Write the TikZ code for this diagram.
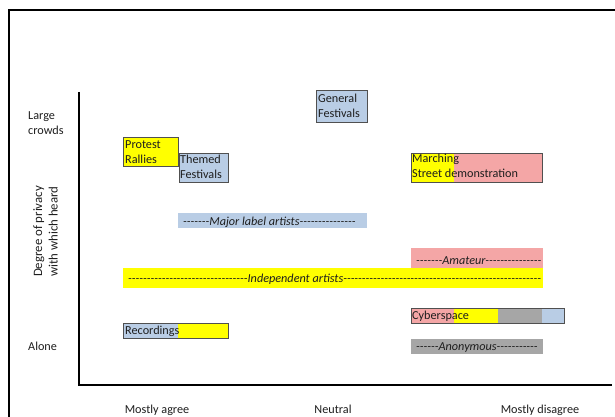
\documentclass[tikz,border=0pt]{standalone}
\usepackage{fontspec}
\setmainfont{Carlito}
\ExplSyntaxOn
\cs_new:Npn \dsh #1 { \prg_replicate:nn {#1} {{-}} }
\ExplSyntaxOff
\definecolor{bblue}{HTML}{B9CDE5}
\definecolor{bpink}{HTML}{F4A6A6}
\definecolor{bgray}{HTML}{A6A6A6}
\definecolor{byel}{HTML}{FFFF00}
\definecolor{bord}{HTML}{505050}
\definecolor{ink}{HTML}{1E1E1E}
\begin{document}
\begin{tikzpicture}[x=1pt,y=-1pt,
  seg/.style={anchor=north west, inner sep=0pt, outer sep=0pt, draw=none},
  frm/.style={anchor=north west, inner sep=0pt, outer sep=0pt, draw=bord, line width=1pt},
  txt/.style={anchor=base west, inner sep=0pt, align=left, text=ink,
    font=\fontsize{12.2}{14.8}\selectfont},
  ctxt/.style={anchor=base, inner sep=0pt, align=center, text=ink,
    font=\fontsize{12.2}{14.8}\selectfont},
  itxt/.style={anchor=base west, inner sep=0pt, text=ink,
    font=\fontsize{12.2}{14.8}\selectfont\itshape}
]
\useasboundingbox (0,0) rectangle (615,417);
% outer frame
\coordinate (fbl) at (9,417);
\coordinate (ftl) at (9,10);
\coordinate (ftr) at (615,10);
\draw[line width=2pt] (fbl) -- (ftl) -- (ftr);
% axes
\coordinate (ytop) at (79,92);
\coordinate (orig) at (79,385);
\coordinate (xend) at (612,385);
\draw[line width=1.6pt] (ytop) -- (orig) -- (xend);

% axis labels (multi-line nodes: base = baseline of last line)
\node[txt] (lc) at (28,134.5) {Large\\crowds};
\node[txt] (al) at (28,350.5) {Alone};
\node[ctxt, rotate=90, anchor=center, font=\fontsize{12.8}{15.5}\selectfont] (dp) at (45.5,231.5) {Degree of privacy\\with which heard};
\node[ctxt] (ma) at (157,413) {Mostly agree};
\node[ctxt] (nt) at (333,413) {Neutral};
\node[ctxt] (md) at (540,413) {Mostly disagree};

% General Festivals
\node[seg, fill=bblue, minimum width=51pt, minimum height=31pt] (gfb) at (316,91) {};
\node[frm, minimum width=51pt, minimum height=31pt] (gff) at (316,91) {};
\node[txt] (gft) at (318,117.5) {General\\Festivals};

% Protest Rallies
\node[seg, fill=byel, minimum width=55pt, minimum height=29pt] (prb) at (123,137) {};
\node[frm, minimum width=55pt, minimum height=29pt] (prf) at (123,137) {};
\node[txt] (prt) at (125,163.5) {Protest\\Rallies};

% Themed Festivals
\node[seg, fill=bblue, minimum width=49pt, minimum height=29pt] (tfb) at (179,153) {};
\node[frm, minimum width=49pt, minimum height=29pt] (tff) at (179,153) {};
\node[txt] (tft) at (180,178.5) {Themed\\Festivals};

% Marching / Street demonstration
\node[seg, fill=byel, minimum width=43pt, minimum height=29pt] (msy) at (411,153) {};
\node[seg, fill=bpink, minimum width=88pt, minimum height=29pt] (msp) at (454,153) {};
\node[frm, minimum width=131pt, minimum height=29pt] (msf) at (411,153) {};
\node[txt] (mst) at (412,177.5) {Marching\\Street demonstration};

% Major label artists
\node[seg, fill=bblue, minimum width=189pt, minimum height=15pt] (mlb) at (178,213) {};
\node[itxt] (mlt) at (183,225) {\dsh{7}Major label artists\dsh{15}};

% Amateur
\node[seg, fill=bpink, minimum width=132pt, minimum height=20pt] (amb) at (411,248) {};
\node[itxt] (amt) at (416,264.5) {\dsh{7}Amateur\dsh{15}};

% Independent artists
\node[seg, fill=byel, minimum width=420pt, minimum height=20pt] (iab) at (123,268) {};
\node[itxt] (iat) at (128,282.5) {\dsh{32}Independent artists\dsh{53}};

% Cyberspace
\node[seg, fill=bpink, minimum width=43pt, minimum height=15pt] (cyp) at (411,308) {};
\node[seg, fill=byel, minimum width=44pt, minimum height=15pt] (cyy) at (454,308) {};
\node[seg, fill=bgray, minimum width=44pt, minimum height=15pt] (cyg) at (498,308) {};
\node[seg, fill=bblue, minimum width=22pt, minimum height=15pt] (cyb) at (542,308) {};
\node[frm, minimum width=153pt, minimum height=15pt] (cyf) at (411,308) {};
\node[txt] (cyt) at (412,319) {Cyberspace};

% Recordings
\node[seg, fill=bblue, minimum width=55pt, minimum height=15pt] (reb) at (123,323) {};
\node[seg, fill=byel, minimum width=50pt, minimum height=15pt] (rey) at (178,323) {};
\node[frm, minimum width=105pt, minimum height=15pt] (ref) at (123,323) {};
\node[txt] (ret) at (125,334.5) {Recordings};

% Anonymous
\node[seg, fill=bgray, minimum width=132pt, minimum height=15pt] (anb) at (411,339) {};
\node[itxt] (ant) at (416,350.5) {\dsh{6}Anonymous\dsh{11}};
\end{tikzpicture}
\end{document}
